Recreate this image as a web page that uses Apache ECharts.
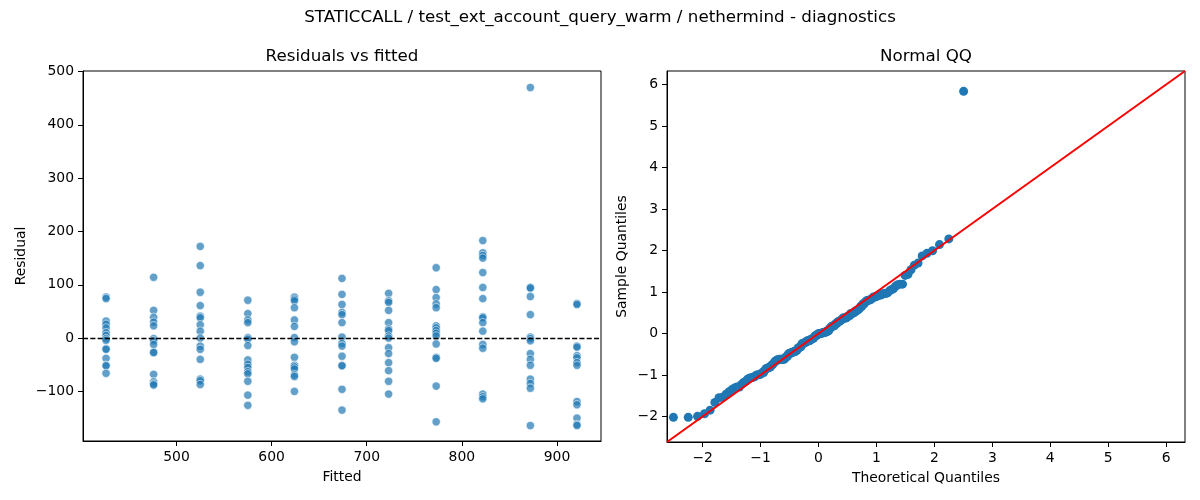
<!DOCTYPE html>
<html>
<head>
<meta charset="utf-8">
<script src="https://cdn.jsdelivr.net/npm/echarts@6/dist/echarts.min.js"></script>
<style>
html,body{margin:0;padding:0;background:#fff;}
#chart{width:1200px;height:500px;}
</style>
</head>
<body>
<div id="chart"></div>
<script>
// Fitted levels (x positions of the residual columns)
const fittedValues = [426, 476, 525, 575, 624, 674, 723, 773, 822, 872, 921];
// Residuals read for each fitted level
const res426 = [77, 74, 32, 26, 19, 10, 5, -1, -4, -20, -21, -38, -51, -52, -66];
const res476 = [114, 52, 39, 30, 23, -1, -5, -12, -27, -27, -68, -82, -86, -88];
const res525 = [172, 136, 86, 61, 41, 38, 25, 13, 0, -15, -21, -40, -77, -80, -87];
const res575 = [71, 46, 34, 29, 1, -2, -14, -41, -49, -55, -63, -67, -81, -107, -126];
const res624 = [77, 73, 70, 57, 34, 22, 1, -7, -36, -51, -54, -58, -69, -72, -100];
const res674 = [112, 82, 63, 48, 44, 29, 2, -10, -15, -34, -51, -52, -96, -135];
const res723 = [84, 70, 67, 52, 29, 17, 14, 4, 0, -18, -29, -46, -61, -81, -105];
const res773 = [132, 91, 76, 64, 57, 23, 19, 14, 9, 4, -11, -36, -38, -90, -157];
const res822 = [183, 160, 155, 150, 123, 95, 74, 40, 38, 29, 13, -12, -19, -105, -110, -114];
const res872 = [470, 95, 94, 78, 44, 2, -1, -5, -29, -40, -51, -77, -85, -94, -164];
const res921 = [65, 63, -15, -17, -33, -37, -46, -51, -119, -125, -150, -162, -164];

// Tick labels
const residXTicks = [500, 600, 700, 800, 900];
const residYTicks = [-100, 0, 100, 200, 300, 400, 500];
const qqTicks = [-2, -1, 0, 1, 2, 3, 4, 5, 6];
// Axis limits
const residXRange = [401.75, 946.25];
const residYRange = [-193, 501];
const qqRange = [-2.615, 6.325];

const residColumns = [res426, res476, res525, res575, res624, res674, res723, res773, res822, res872, res921];

const residPoints = [];
residColumns.forEach((col, i) => col.forEach(r => residPoints.push([fittedValues[i], r])));

// Normal QQ derived from the residuals above: sorted standardized residuals
// against normal quantiles at plotting positions i/(n+1).
function normInv(p) {
  const a = [-3.969683028665376e+01, 2.209460984245205e+02, -2.759285104469687e+02, 1.383577518672690e+02, -3.066479806614716e+01, 2.506628277459239e+00];
  const b = [-5.447609879822406e+01, 1.615858368580409e+02, -1.556989798598866e+02, 6.680131188771972e+01, -1.328068155288572e+01];
  const c = [-7.784894002430293e-03, -3.223964580411365e-01, -2.400758277161838e+00, -2.549732539343734e+00, 4.374664141464968e+00, 2.938163982698783e+00];
  const d = [7.784695709041462e-03, 3.224671290700398e-01, 2.445134137142996e+00, 3.754408661907416e+00];
  const pl = 0.02425, ph = 1 - pl;
  let q, r;
  if (p < pl) { q = Math.sqrt(-2 * Math.log(p)); return (((((c[0]*q+c[1])*q+c[2])*q+c[3])*q+c[4])*q+c[5]) / ((((d[0]*q+d[1])*q+d[2])*q+d[3])*q+1); }
  if (p > ph) { q = Math.sqrt(-2 * Math.log(1 - p)); return -(((((c[0]*q+c[1])*q+c[2])*q+c[3])*q+c[4])*q+c[5]) / ((((d[0]*q+d[1])*q+d[2])*q+d[3])*q+1); }
  q = p - 0.5; r = q * q;
  return (((((a[0]*r+a[1])*r+a[2])*r+a[3])*r+a[4])*r+a[5])*q / (((((b[0]*r+b[1])*r+b[2])*r+b[3])*r+b[4])*r+1);
}
const allRes = residPoints.map(p => p[1]);
const n = allRes.length;
const mean = allRes.reduce((s, v) => s + v, 0) / n;
const sd = Math.sqrt(allRes.reduce((s, v) => s + (v - mean) * (v - mean), 0) / (n - 1));
const sortedStd = allRes.map(v => (v - mean) / sd).sort((x, y) => x - y);
const qqPoints = sortedStd.map((s, i) => [normInv((i + 1) / (n + 1)), s]);
const qqLine = [[qqRange[0], qqRange[0]], [qqRange[1], qqRange[1]]];

const FONT = 'DejaVu Sans';
const minus = v => String(v).replace('-', '\u2212');
const axisCommon = {
  axisLine: { show: true, onZero: false, lineStyle: { color: '#000', width: 1 } },
  axisTick: { show: true, inside: false, length: 5, lineStyle: { color: '#000', width: 1 } },
  splitLine: { show: false },
  nameTextStyle: { fontFamily: FONT, fontSize: 13.9, color: '#000' },
};
function mkAxis(extra, ticks) {
  return Object.assign({}, axisCommon, {
    type: 'value',
    axisTick: Object.assign({}, axisCommon.axisTick, { customValues: ticks }),
    axisLabel: { fontFamily: FONT, fontSize: 13.9, color: '#000', margin: 9, customValues: ticks, formatter: minus, showMinLabel: true, showMaxLabel: true },
  }, extra);
}
const titleStyle = { fontFamily: FONT, fontSize: 16.7, fontWeight: 'normal', color: '#000' };

const chart = echarts.init(document.getElementById('chart'), null, { renderer: 'canvas' });
chart.setOption({
  animation: false,
  backgroundColor: '#fff',
  title: [
    { text: 'STATICCALL / test_ext_account_query_warm / nethermind - diagnostics', left: 600, textAlign: 'center', top: 9, padding: 0, textStyle: titleStyle },
    { text: 'Residuals vs fitted', left: 342, textAlign: 'center', top: 48, padding: 0, textStyle: titleStyle },
    { text: 'Normal QQ', left: 926, textAlign: 'center', top: 48, padding: 0, textStyle: titleStyle }
  ],
  grid: [
    { left: 83, top: 71, width: 518, height: 370, show: true, borderColor: '#000', borderWidth: 1, backgroundColor: 'transparent' },
    { left: 667, top: 71, width: 518, height: 371, show: true, borderColor: '#000', borderWidth: 1, backgroundColor: 'transparent' }
  ],
  xAxis: [
    mkAxis({ gridIndex: 0, min: residXRange[0], max: residXRange[1], name: 'Fitted', nameLocation: 'middle', nameGap: 29 }, residXTicks),
    mkAxis({ gridIndex: 1, min: qqRange[0], max: qqRange[1], name: 'Theoretical Quantiles', nameLocation: 'middle', nameGap: 29 }, qqTicks)
  ],
  yAxis: [
    mkAxis({ gridIndex: 0, min: residYRange[0], max: residYRange[1], name: 'Residual', nameLocation: 'middle', nameGap: 55 }, residYTicks),
    mkAxis({ gridIndex: 1, min: qqRange[0], max: qqRange[1], name: 'Sample Quantiles', nameLocation: 'middle', nameGap: 38 }, qqTicks)
  ],
  series: [
    {
      type: 'scatter', xAxisIndex: 0, yAxisIndex: 0, data: residPoints,
      symbol: 'circle', symbolSize: 8.3,
      itemStyle: { color: '#1f77b4', opacity: 0.7, borderColor: '#fff', borderWidth: 0.8 },
      markLine: {
        silent: true, symbol: ['none', 'none'], label: { show: false },
        lineStyle: { color: '#000', type: [5.1, 2.2], width: 1.3 },
        data: [{ yAxis: 0 }]
      },
      z: 2
    },
    {
      type: 'scatter', xAxisIndex: 1, yAxisIndex: 1, data: qqPoints,
      symbol: 'circle', symbolSize: 9,
      itemStyle: { color: '#1f77b4', opacity: 1 },
      z: 2
    },
    {
      type: 'line', xAxisIndex: 1, yAxisIndex: 1, data: qqLine,
      symbol: 'none', lineStyle: { color: '#ff0000', width: 2 }, z: 3, silent: true
    }
  ]
});
</script>
</body>
</html>
